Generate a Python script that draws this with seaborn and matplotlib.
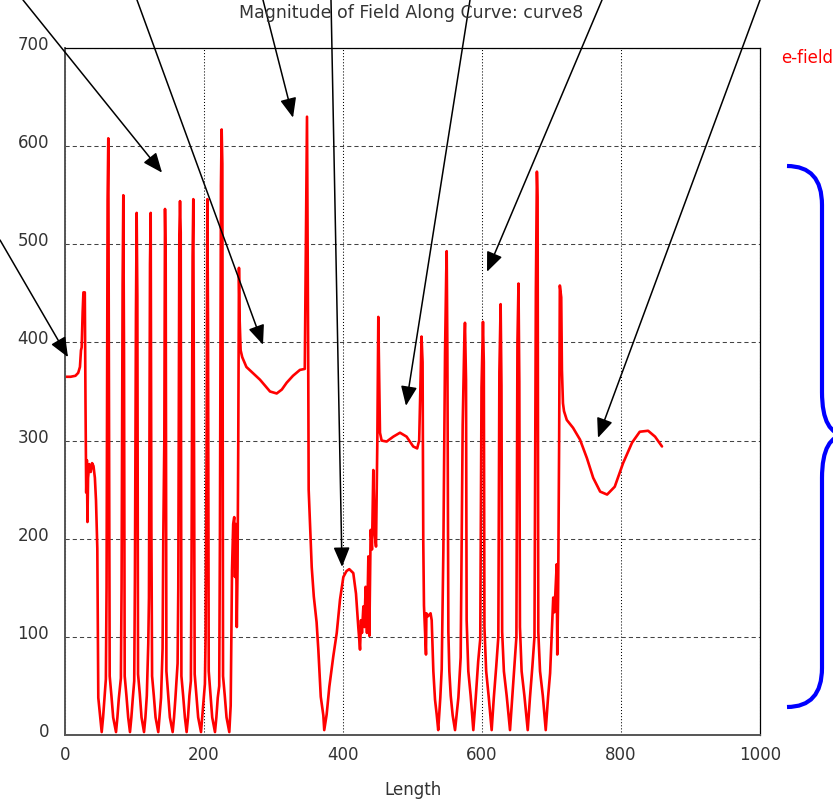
import numpy as np
import pandas as pd
import matplotlib
matplotlib.use("Agg")
import matplotlib.pyplot as plt
import seaborn as sns
import matplotlib.transforms as mtransforms
from matplotlib.path import Path
from matplotlib.patches import PathPatch

# ---------------- data ----------------
length_start = [0, 8, 15, 19, 21.5, 23, 24, 25.4, 26.5, 28.5, 29.5, 30.5, 31.5, 32.3, 33.2,
                35, 37, 39, 41, 43, 44.6, 46.5, 47.9, 50.4]
efield_start = [365, 365, 366, 369, 375, 392, 395, 431, 451, 451, 338, 247, 280, 217, 262,
                276, 268, 277, 274, 262, 239, 190, 38, 20]

length_band1 = [52.8, 54.8, 56.8, 58.8, 59.8, 61.3, 62.3, 63.3, 64.3, 66.8, 69.3,
                73.4, 75.4, 77.4, 80.4, 81.4, 82.9, 83.9, 84.9, 85.9, 88.4, 90.9,
                93.5, 95.5, 97.5, 99.6, 100.6, 102.1, 103.1, 104.1, 105.1, 107.6, 110.1,
                113.7, 115.7, 117.7, 119.8, 120.8, 122.3, 123.3, 124.3, 125.3, 127.8, 130.3,
                134.2, 136.2, 138.2, 140.4, 141.4, 142.9, 143.9, 144.9, 145.9, 148.4, 150.9,
                154.9, 156.9, 158.9, 162, 163, 164.5, 165.5, 166.5, 167.5, 170, 172.5,
                175, 177, 179, 181.1, 182.1, 183.6, 184.6, 185.6, 186.6, 189.1, 191.6,
                195.7, 197.7, 199.7, 201.3, 202.3, 203.8, 204.8, 205.8, 206.8, 209.3, 211.8,
                215.8, 217.8, 219.8, 221.9, 222.9, 224.4, 225.4, 226.4, 227.4, 229.9, 232.4,
                236.4]
efield_band1 = [3, 18, 37, 57, 150, 545, 608, 340, 60, 40, 18,
                3, 18, 37, 58, 150, 460, 550, 392, 60, 40, 18,
                3, 18, 37, 55, 160, 430, 532, 447, 62, 42, 18,
                3, 18, 40, 93, 140, 480, 532, 210, 60, 40, 18,
                3, 20, 38, 88, 200, 300, 536, 480, 65, 42, 18,
                3, 18, 38, 73, 150, 510, 544, 512, 60, 40, 18,
                3, 18, 40, 55, 180, 488, 546, 314, 62, 40, 18,
                3, 20, 38, 52, 100, 304, 546, 418, 65, 42, 18,
                3, 18, 38, 50, 200, 560, 617, 582, 60, 40, 18,
                3]

length_middle = [238.4, 240.3, 242, 243.5, 244.6, 246, 247.2, 248.3, 249.3, 250.3, 251.3,
                 252.7, 255, 261, 270, 280.6, 295, 304.6, 312, 319, 328, 338, 345, 348.2,
                 350, 350.6, 355, 358, 362, 364.5, 368, 371.7, 373, 376.5, 380.3, 386, 391,
                 395.7, 400.5, 405, 409, 414.8, 418.7, 422, 424.5, 425.9, 427.3, 429.3,
                 430.7, 432.6, 434.5, 436.5, 437.9, 439.8, 441.7, 443.6, 445.5, 447.5,
                 449.4, 450.8, 452.2, 453.2, 455.6, 462.8, 472.4, 482, 491.5, 501, 506.7,
                 509.6, 511.5, 513, 514.5, 515.5, 516.5, 519.4, 520, 522.3, 526, 527.6,
                 530, 532.4, 534.8, 537]
efield_middle = [30, 168, 215, 222, 161, 215, 110, 171, 300, 476, 423,
                 392, 385, 375, 369, 362, 350, 348, 352, 359, 366, 372, 373, 630,
                 372, 250, 171, 141, 115, 87, 39, 20, 5, 21, 49, 80, 104,
                 138, 161, 167, 169, 165, 144, 110, 87, 117, 104, 131,
                 110, 151, 104, 182, 101, 209, 189, 270, 206, 192,
                 300, 426, 357, 308, 300, 299, 304, 308, 304, 294, 292,
                 300, 359, 406, 380, 197, 132, 82, 124, 121, 124, 117,
                 65, 36, 21, 5]

length_band2 = [540, 542, 544.4, 546.8, 548.5, 549.2, 550.2, 551.6, 553, 555, 557.8, 561.2,
                566, 569.3, 572.2, 574.5, 575.5, 577, 577.9, 580.3, 583.7, 587.5,
                591, 594.5, 597.5, 599.3, 601.4, 602.6, 603.5, 606, 609.5, 613.9,
                617, 620.5, 623.5, 625, 626.8, 628, 629, 631.5, 635.5, 640.3,
                643.5, 646.5, 649.5, 651, 652.5, 653.7, 654.6, 657, 661, 665.8,
                669, 672.5, 675.5, 677.5, 679, 680, 681, 683.5, 687.5, 691.7]
efield_band2 = [38, 67, 188, 389, 470, 493, 389, 105, 65, 40, 20, 5,
                38, 79, 316, 400, 420, 362, 117, 65, 40, 5,
                38, 75, 98, 354, 421, 380, 110, 65, 40, 5,
                38, 70, 100, 370, 439, 356, 105, 65, 40, 5,
                38, 70, 100, 400, 460, 360, 110, 65, 40, 5,
                38, 70, 100, 452, 574, 548, 105, 65, 40, 5]

length_end = [695, 698, 700, 702.5, 704, 705.5, 707.5, 708.3, 709.5, 711, 712, 714, 715,
              716.5, 718, 722, 731, 741, 751, 760, 770, 780, 791, 803, 816, 827, 839,
              849, 859]
efield_end = [38, 63, 98, 140, 125, 144, 174, 82, 140, 300, 458, 446, 372,
              338, 330, 321, 313, 301, 282, 262, 248, 245, 253, 277, 298, 309, 310,
              304, 294]

x_ticks = [0, 200, 400, 600, 800, 1000]
y_ticks = [0, 100, 200, 300, 400, 500, 600, 700]

# arrow tips in data units, arrow tails in figure pixels (from top-left)
arrow_tips = [(4.3, 385), (139.6, 573), (284.9, 397.6), (328.1, 629),
              (398.6, 171.3), (490.6, 335.4), (607.2, 472), (766.9, 302.8)]
arrow_tails = [(0, 240), (23, 0), (137, 0), (263, 0), (331, 0), (470, 0), (602, 0), (760, 0)]

# ---------------- figure ----------------
sns.set_style("white")
plt.rcParams['font.family'] = ['DejaVu Sans']
plt.rcParams['lines.scale_dashes'] = False

W, H = 833, 799
fig = plt.figure(figsize=(W / 100, H / 100), dpi=100)
ax = fig.add_axes([65 / W, (H - 735) / H, (760 - 65) / W, (735 - 48) / H])

df = pd.DataFrame({
    'Length': length_start + length_band1 + length_middle + length_band2 + length_end,
    'e-field': efield_start + efield_band1 + efield_middle + efield_band2 + efield_end,
})
sns.lineplot(data=df, x='Length', y='e-field', color='#ff0000', lw=1.9, ax=ax,
             sort=False, estimator=None, label='e-field')

ax.set_xlim(0, 1000)
ax.set_ylim(0, 700)
ax.set_xticks(x_ticks)
ax.set_yticks(y_ticks)
ax.tick_params(axis='both', direction='out', length=6.5, width=1, color='#555555',
               labelsize=12, labelcolor='#333333')
ax.tick_params(axis='y', pad=5)
ax.tick_params(axis='x', pad=1.5)

ax.yaxis.grid(True, linestyle=(0, (3.0, 2.2)), color='#444444', lw=0.75)
ax.xaxis.grid(True, linestyle=(0, (0.75, 1.45)), color='#000000', lw=0.75)
ax.set_axisbelow(True)

for side in ['left', 'bottom']:
    ax.spines[side].set_color('#555555')
    ax.spines[side].set_linewidth(1.4)
for side in ['top', 'right']:
    ax.spines[side].set_color('#000000')
    ax.spines[side].set_linewidth(0.9)

ax.set_xlabel('Length', fontsize=12, color='#333333', labelpad=12)
ax.set_ylabel('')

off = mtransforms.ScaledTranslation(0, 5 / 100, fig.dpi_scale_trans)
for lbl in ax.get_yticklabels():
    lbl.set_transform(lbl.get_transform() + off)

fig.text(411 / W, 1 - 13 / H, 'Magnitude of Field Along Curve: curve8', ha='center',
         va='center', fontsize=12.5, color='#333333')

leg = ax.legend(loc='center left', bbox_to_anchor=(781 / W, 1 - 58 / H),
                bbox_transform=fig.transFigure, frameon=False, handlelength=0,
                handletextpad=0, borderpad=0, borderaxespad=0, labelcolor='#ff0000',
                fontsize=12)
for h in leg.legend_handles:
    h.set_visible(False)

# arrows
for (tx, ty), (sx, sy) in zip(arrow_tips, arrow_tails):
    ax.annotate('', xy=(tx, ty), xycoords='data',
                xytext=(sx, H - sy), textcoords='figure pixels',
                arrowprops=dict(arrowstyle='-|>,head_length=0.6,head_width=0.25',
                                mutation_scale=20, color='black', lw=1.1,
                                shrinkA=0, shrinkB=0),
                annotation_clip=False)

# blue brace on the right (figure pixels, top-left origin)
brace_px = [(787, 166), (822, 166), (822, 205), (822, 392), (822, 435), (846, 435),
            (822, 435), (822, 478), (822, 668), (822, 707), (787, 707)]
codes = [Path.MOVETO, Path.CURVE3, Path.CURVE3, Path.LINETO, Path.CURVE3, Path.CURVE3,
         Path.CURVE3, Path.CURVE3, Path.LINETO, Path.CURVE3, Path.CURVE3]
verts = [(px / 100, (H - py) / 100) for px, py in brace_px]
brace = PathPatch(Path(verts, codes), transform=fig.dpi_scale_trans, fill=False,
                  edgecolor='#0000ff', lw=3.0, capstyle='butt')
fig.add_artist(brace)

fig.savefig('out.png', dpi=100)
